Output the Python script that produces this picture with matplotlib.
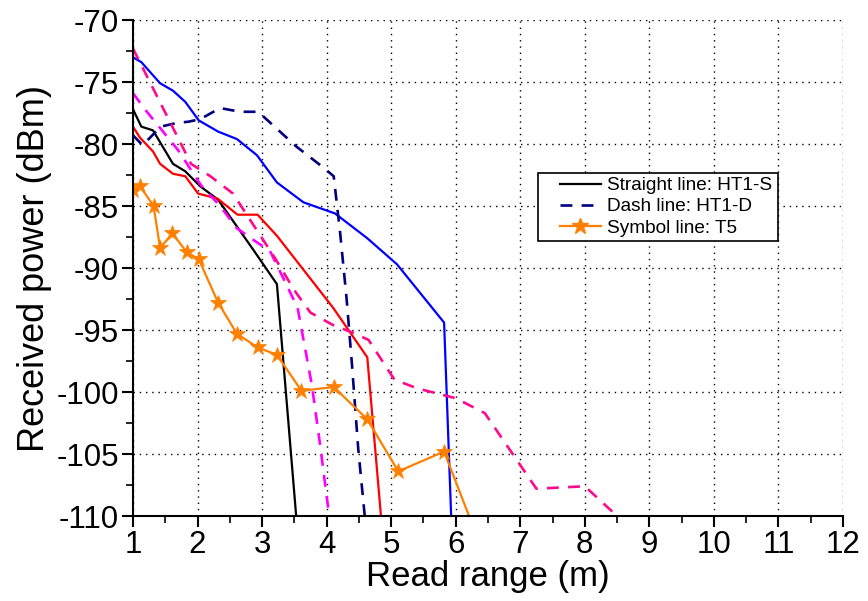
import matplotlib
matplotlib.use("Agg")
import matplotlib.pyplot as plt
from matplotlib.ticker import MultipleLocator
from matplotlib.patches import Rectangle

plt.rcParams['font.family'] = ['Liberation Sans', 'DejaVu Sans']
plt.rcParams['axes.unicode_minus'] = False

# ---- data ----
black_x = [1.0, 1.13, 1.31, 1.62, 1.81, 2.04, 2.32, 2.86, 3.23, 3.6]
black_y = [-77.2, -78.6, -78.9, -81.6, -82.2, -83.4, -84.5, -88.5, -91.3, -114.5]

red_x = [1.0, 1.11, 1.31, 1.42, 1.62, 1.81, 2.01, 2.31, 2.62, 2.93, 3.23, 4.1, 4.63, 4.9]
red_y = [-78.6, -79.5, -80.6, -81.6, -82.4, -82.6, -84.0, -84.4, -85.7, -85.7, -87.4, -93.2, -97.2, -113.5]

blue_x = [1.0, 1.13, 1.42, 1.62, 1.81, 2.02, 2.32, 2.61, 2.92, 3.23, 3.64, 4.13, 4.63, 5.09, 5.82, 5.94]
blue_y = [-73.0, -73.4, -75.1, -75.7, -76.6, -78.1, -79.0, -79.6, -80.9, -83.1, -84.7, -85.6, -87.6, -89.7, -94.4, -111.5]

navy_x = [1.0, 1.15, 1.43, 1.68, 1.86, 2.04, 2.35, 2.66, 2.94, 3.53, 3.95, 4.11, 4.21, 4.31, 4.39, 4.49, 4.6]
navy_y = [-79.3, -80.1, -78.6, -78.3, -78.2, -78.0, -77.1, -77.4, -77.4, -80.2, -81.9, -82.6, -87.2, -92.5, -97.6, -104.6, -110.5]

magenta_x = [1.0, 1.2, 1.7, 2.05, 2.35, 2.61, 2.94, 3.12, 3.28, 3.55, 3.77, 3.9, 4.04]
magenta_y = [-75.9, -77.3, -80.5, -83.3, -85.0, -86.8, -88.0, -88.6, -90.3, -93.2, -99.4, -104.3, -110.0]

pink_x = [1.0, 1.9, 2.2, 2.55, 2.9, 3.2, 3.5, 3.75, 4.1, 4.4, 4.65, 5.05, 5.4, 6.0, 6.45, 7.25, 8.0, 8.5, 9.0]
pink_y = [-72.3, -81.6, -82.6, -84.0, -86.8, -89.2, -91.8, -93.6, -94.6, -95.2, -95.8, -99.0, -99.7, -100.5, -101.7, -107.8, -107.6, -110.0, -112.5]

orange_x = [1.0, 1.11, 1.32, 1.42, 1.61, 1.83, 2.02, 2.32, 2.61, 2.93, 3.23, 3.61, 4.11, 4.63, 5.11, 5.82, 6.4]
orange_y = [-83.7, -83.4, -85.0, -88.4, -87.2, -88.7, -89.3, -92.8, -95.3, -96.4, -97.0, -99.9, -99.6, -102.2, -106.4, -104.8, -112.6]

legend_labels = ["Straight line: HT1-S", "Dash line: HT1-D", "Symbol line: T5"]
x_ticks = list(range(1, 13))
y_ticks = list(range(-110, -65, 5))

# ---- figure ----
W, H = 868, 601
fig = plt.figure(figsize=(W / 100, H / 100), dpi=100)
ax = fig.add_axes([0.1532, 0.1414, 0.8180, 0.8253])

lw = 1.6
dash = (4.5, 3.5)
ax.plot(black_x, black_y, color='black', lw=lw)
ax.plot(red_x, red_y, color='#ff0000', lw=lw)
ax.plot(blue_x, blue_y, color='#0000ff', lw=lw)
ax.plot(navy_x, navy_y, color='#000080', lw=1.9, dashes=dash)
ax.plot(magenta_x, magenta_y, color='#ff00ff', lw=1.9, dashes=dash)
ax.plot(pink_x, pink_y, color='#ff0a8c', lw=1.9, dashes=dash)
ax.plot(orange_x, orange_y, color='#ff8000', lw=lw, marker='*', markersize=12,
        markeredgewidth=0.5)

ax.set_xlim(1, 12)
ax.set_ylim(-110, -70)
ax.set_xticks(x_ticks)
ax.set_yticks(y_ticks)
ax.xaxis.set_minor_locator(MultipleLocator(0.5))
ax.yaxis.set_minor_locator(MultipleLocator(2.5))

ax.grid(True, which='major', color='black', linestyle=(0, (1, 3.5)), linewidth=1.0)
ax.set_axisbelow(True)

for s in ['top', 'right']:
    ax.spines[s].set_visible(False)
for s in ['left', 'bottom']:
    ax.spines[s].set_linewidth(1.5)

ax.tick_params(axis='both', which='major', direction='out', length=8, width=1.5,
               labelsize=22.5, pad=2)
ax.tick_params(axis='both', which='minor', direction='out', length=5, width=1.2)

ax.set_xlabel("Read range (m)", fontsize=25, labelpad=0)
ax.set_ylabel("Received power (dBm)", fontsize=26, labelpad=3)

# legend box (drawn manually for exact padding)
bx0, bx1, by0, by1 = 538, 778, 173, 241
fig.patches.append(Rectangle((bx0 / W, 1 - by1 / H), (bx1 - bx0) / W, (by1 - by0) / H,
                             transform=fig.transFigure, facecolor='white',
                             edgecolor='black', linewidth=1.2, zorder=3))

h1, = ax.plot([], [], color='black', lw=lw)
h2, = ax.plot([], [], color='#000080', lw=1.9, dashes=dash)
h3, = ax.plot([], [], color='#ff8000', lw=lw, marker='*', markersize=12)
leg = fig.legend([h1, h2, h3], legend_labels, loc='upper left',
                 bbox_to_anchor=(560 / W, 1 - 177 / H), bbox_transform=fig.transFigure,
                 fontsize=13.7, frameon=False, borderpad=0, borderaxespad=0,
                 handlelength=2.15, labelspacing=0.2, handletextpad=0.3)
leg.set_zorder(10)

fig.savefig("out.png", dpi=100)
